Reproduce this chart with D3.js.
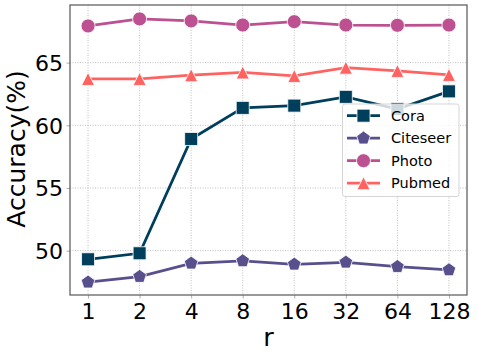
<!DOCTYPE html>
<html><head><meta charset="utf-8">
<script src="https://cdn.jsdelivr.net/npm/d3@7"></script>
<style>body{margin:0;background:#fff}svg{display:block}text{font-family:"DejaVu Sans",sans-serif}</style>
</head><body><svg id="c" width="478" height="358"></svg>
<script>
const categories = ["1","2","4","8","16","32","64","128"];
const cora = [49.31, 49.79, 58.91, 61.39, 61.57, 62.27, 61.3, 62.71];
const citeseer = [47.48, 47.93, 48.99, 49.18, 48.91, 49.07, 48.72, 48.46];
const photo = [67.93, 68.49, 68.33, 68.0, 68.27, 68.0, 67.98, 68.0];
const pubmed = [63.7, 63.7, 64.0, 64.22, 63.94, 64.6, 64.34, 64.02];
const yTicks = [50, 55, 60, 65];
const seriesNames = ["Cora", "Citeseer", "Photo", "Pubmed"];
const colors = ["#003f5c", "#58508d", "#bc5090", "#ff6361"];
const shapes = ["square", "pentagon", "circle", "triangle"];

const svg = d3.select("#c");
const L = 70, R = 467, T = 5, B = 295;
const x = d3.scaleLinear().domain([-0.35, 7.35]).range([L, R]);
const y = d3.scaleLinear().domain([46.46, 69.6]).range([B, T]);

// grid
const g = svg.append("g");
g.selectAll(".vg").data(categories).enter().append("line")
  .attr("x1", (d,i)=>x(i)).attr("x2",(d,i)=>x(i)).attr("y1",T).attr("y2",B)
  .attr("stroke","#b0b0b0").attr("stroke-width",0.8).attr("stroke-dasharray","1,1.5");
g.selectAll(".hg").data(yTicks).enter().append("line")
  .attr("x1", L).attr("x2", R).attr("y1", d=>y(d)).attr("y2", d=>y(d))
  .attr("stroke","#b0b0b0").attr("stroke-width",0.8).attr("stroke-dasharray","1,1.5");

// axes
const xAxis = d3.axisBottom(x).tickValues(d3.range(categories.length)).tickFormat(i=>categories[i]).tickSize(3.5).tickPadding(3.5);
const yAxis = d3.axisLeft(y).tickValues(yTicks).tickSize(3.5).tickPadding(3.5);
const ga = svg.append("g").attr("transform",`translate(0,${B})`).call(xAxis);
const gy = svg.append("g").attr("transform",`translate(${L},0)`).call(yAxis);
[ga, gy].forEach(a=>{
  a.select(".domain").remove();
  a.selectAll("line").attr("stroke","#999").attr("stroke-width",0.8);
  a.selectAll("text").attr("font-size",22).attr("fill","#000").attr("font-family","DejaVu Sans");
});
ga.selectAll("text").attr("dy","0.76em");
gy.selectAll("text").attr("dy","0.36em");

svg.append("rect").attr("x",L).attr("y",T).attr("width",R-L).attr("height",B-T)
  .attr("fill","none").attr("stroke","#555").attr("stroke-width",1.2);

svg.append("text").attr("x",x(3.5)).attr("y",345.7).attr("text-anchor","middle").attr("font-size",25.5).text("r");
svg.append("text").attr("transform",`translate(25,149) rotate(-90)`).attr("text-anchor","middle").attr("font-size",25).text("Accuracy(%)");

function markerPath(shape, s) {
  if (shape==="square") return `M${-s/2},${-s/2}h${s}v${s}h${-s}Z`;
  if (shape==="circle") return d3.symbol().type(d3.symbolCircle).size(Math.PI*(s/2)*(s/2))();
  if (shape==="triangle") { const r = s/2; return `M0,${-r}L${r},${r}L${-r},${r}Z`; }
  if (shape==="pentagon") { const r = s*0.55; let p=[]; for(let k=0;k<5;k++){const a=-Math.PI/2+k*2*Math.PI/5; p.push([r*Math.cos(a), r*Math.sin(a)]);} return "M"+p.map(q=>q.join(",")).join("L")+"Z"; }
}
const sizes = [13, 13, 14, 13];

const data = [cora, citeseer, photo, pubmed];
const line = d3.line().x((d,i)=>x(i)).y(d=>y(d));
data.forEach((vals, si) => {
  const sg = svg.append("g");
  sg.append("path").datum(vals).attr("d", line).attr("fill","none").attr("stroke", colors[si]).attr("stroke-width",2.8);
  sg.selectAll("path.m").data(vals).enter().append("path").attr("class","m")
    .attr("transform",(d,i)=>`translate(${x(i)},${y(d)})`)
    .attr("d", markerPath(shapes[si], sizes[si]))
    .attr("fill", colors[si]).attr("stroke","#fff").attr("stroke-width",0.8);
});

// legend
const lg = svg.append("g");
lg.append("rect").attr("x",342.5).attr("y",104).attr("width",116.5).attr("height",92.5).attr("rx",2.5)
  .attr("fill","#fff").attr("fill-opacity",0.8).attr("stroke","#d5d5d5").attr("stroke-width",1);
seriesNames.forEach((n, i) => {
  const cy = 115.7 + i*22.5;
  lg.append("line").attr("x1",347).attr("x2",380).attr("y1",cy).attr("y2",cy).attr("stroke",colors[i]).attr("stroke-width",2.8);
  lg.append("path").attr("transform",`translate(363.5,${cy})`).attr("d", markerPath(shapes[i], sizes[i])).attr("fill",colors[i]).attr("stroke","#fff").attr("stroke-width",0.8);
  lg.append("text").attr("x",391).attr("y",cy).attr("dy","0.36em").attr("font-size",14.5).text(n);
});
</script></body></html>
